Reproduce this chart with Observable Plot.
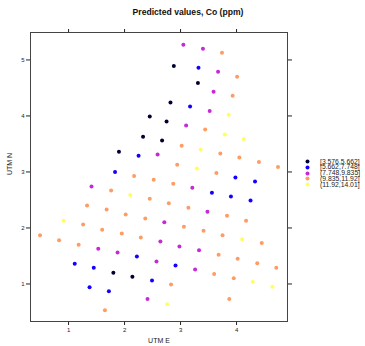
<!DOCTYPE html>
<html>
<head>
<meta charset="utf-8">
<script src="https://cdn.jsdelivr.net/npm/d3@7"></script>
<script src="https://cdn.jsdelivr.net/npm/@observablehq/plot@0.6"></script>
<style>
  html, body { margin: 0; padding: 0; background: #fff; }
  #wrap { position: relative; width: 365px; height: 346px; font-family: "Liberation Sans", Arial, sans-serif; }
  #title { position: absolute; left: 188px; top: 7px; transform: translateX(-50%); font-weight: bold; font-size: 8.6px; white-space: nowrap; color: #111; }
  #legend { position: absolute; left: 305px; top: 158.6px; }
  .row { display: flex; align-items: center; height: 5.8px; }
  .row svg { width: 5px; height: 5px; margin-right: 10px; flex: none; }
  .row span { font-size: 6.8px; line-height: 5.8px; color: #222; white-space: nowrap; background: transparent; }
</style>
</head>
<body>
<div id="wrap">
  <div id="title">Predicted values, Co (ppm)</div>
  <div id="legend"></div>
</div>
<script>
// Class labels and colours (bpy.colors(5))
const classLabels = ["[3.576,5.662]", "[5.662,7.748]", "(7.748,9.835]", "(9.835,11.92]", "(11.92,14.01]"];
const classColors = ["#000033", "#1400FF", "#C729D6", "#FF9C63", "#FFFF60"];
const xTicks = [1, 2, 3, 4];
const yTicks = [1, 2, 3, 4, 5];

// Points per class: UTM E and UTM N
const c1E = [2.88, 2.82, 2.45, 2.75, 2.33, 2.67, 1.90, 3.31, 1.80, 2.14];
const c1N = [4.89, 4.24, 3.99, 3.90, 3.63, 3.56, 3.36, 4.59, 1.20, 1.13];

const c2E = [2.25, 1.83, 3.32, 3.17, 3.98, 4.33, 3.56, 3.90, 4.25, 2.22, 2.91, 1.11, 1.45, 2.49, 1.375, 1.72];
const c2N = [3.29, 3.00, 4.86, 4.17, 2.90, 2.83, 2.63, 2.56, 2.49, 1.49, 1.33, 1.36, 1.29, 1.06, 0.94, 0.87];

const c3E = [2.59, 3.05, 3.40, 3.67, 3.59, 3.52, 3.10, 1.41, 2.71, 2.64, 2.98, 1.53, 1.875, 2.57, 2.41, 3.21, 3.48, 3.33, 3.26];
const c3N = [3.31, 5.27, 5.20, 4.79, 4.43, 4.09, 3.83, 2.74, 2.10, 1.76, 1.67, 1.63, 1.56, 1.40, 0.73, 2.72, 2.29, 1.60, 1.26];

const c4E = [3.74, 4.01, 3.93, 3.44, 3.02, 3.71, 4.05, 4.40, 4.74, 2.94, 3.64, 2.17, 2.52, 2.87, 1.76, 2.45, 2.79, 1.33, 1.68, 2.02, 2.37, 1.26, 1.60, 1.95, 2.29, 0.49, 0.83, 1.18, 2.83, 1.65, 3.14, 3.83, 4.17, 3.06, 3.41, 3.75, 4.45, 3.68, 4.02, 4.37, 4.71, 3.60, 3.95, 3.87];
const c4N = [5.13, 4.70, 4.36, 3.76, 3.47, 3.33, 3.26, 3.18, 3.09, 3.13, 2.98, 2.93, 2.86, 2.79, 2.67, 2.52, 2.44, 2.40, 2.33, 2.24, 2.17, 2.06, 1.97, 1.90, 1.83, 1.87, 1.78, 1.70, 0.99, 0.53, 2.36, 2.22, 2.13, 2.02, 1.95, 1.87, 1.73, 1.52, 1.45, 1.37, 1.29, 1.18, 1.10, 0.73];

const c5E = [3.86, 3.79, 4.13, 3.36, 3.29, 2.10, 0.91, 2.76, 4.10, 4.29, 4.64];
const c5N = [4.02, 3.67, 3.59, 3.40, 3.06, 2.59, 2.13, 0.64, 1.80, 1.04, 0.95];

const classE = [c1E, c2E, c3E, c4E, c5E];
const classN = [c1N, c2N, c3N, c4N, c5N];

const points = [];
classE.forEach((es, k) => es.forEach((e, i) => points.push({e, n: classN[k][i], cls: classLabels[k]})));

const intFmt = d3.format("d");

const chart = Plot.plot({
  width: 365,
  height: 346,
  marginLeft: 30,
  marginRight: 78,
  marginTop: 32,
  marginBottom: 25,
  style: {fontFamily: "'Liberation Sans', Arial, sans-serif", fontSize: "6px", color: "#222", background: "transparent"},
  x: {domain: [0.32, 4.91]},
  y: {domain: [0.33, 5.49]},
  color: {domain: classLabels, range: classColors},
  marks: [
    Plot.axisX({ticks: xTicks, tickSize: 4, tickPadding: 2, tickFormat: intFmt, label: null, fontSize: 6}),
    Plot.axisX({anchor: "top", ticks: xTicks, tickSize: 4, tickFormat: () => "", label: null}),
    Plot.axisY({ticks: yTicks, tickSize: 4, tickPadding: 2, tickFormat: intFmt, label: null, fontSize: 6}),
    Plot.axisY({anchor: "right", ticks: yTicks, tickSize: 4, tickFormat: () => "", label: null}),
    Plot.frame({stroke: "#444"}),
    Plot.text(["UTM E"], {frameAnchor: "bottom", dy: 21, fontSize: 7, fill: "#222"}),
    Plot.text(["UTM N"], {frameAnchor: "left", dx: -21, dy: -2, rotate: -90, fontSize: 7, fill: "#222"}),
    Plot.dot(points, {x: "e", y: "n", fill: "cls", r: 2, stroke: "none"})
  ]
});
chart.style.position = "absolute";
chart.style.left = "0px";
chart.style.top = "0px";
document.getElementById("wrap").prepend(chart);

const legend = document.getElementById("legend");
classLabels.forEach((lab, k) => {
  const row = document.createElement("div");
  row.className = "row";
  row.innerHTML = `<svg viewBox="0 0 5 5"><circle cx="2.5" cy="2.5" r="2" fill="${classColors[k]}"></circle></svg><span>${lab}</span>`;
  legend.appendChild(row);
});
</script>
</body>
</html>
